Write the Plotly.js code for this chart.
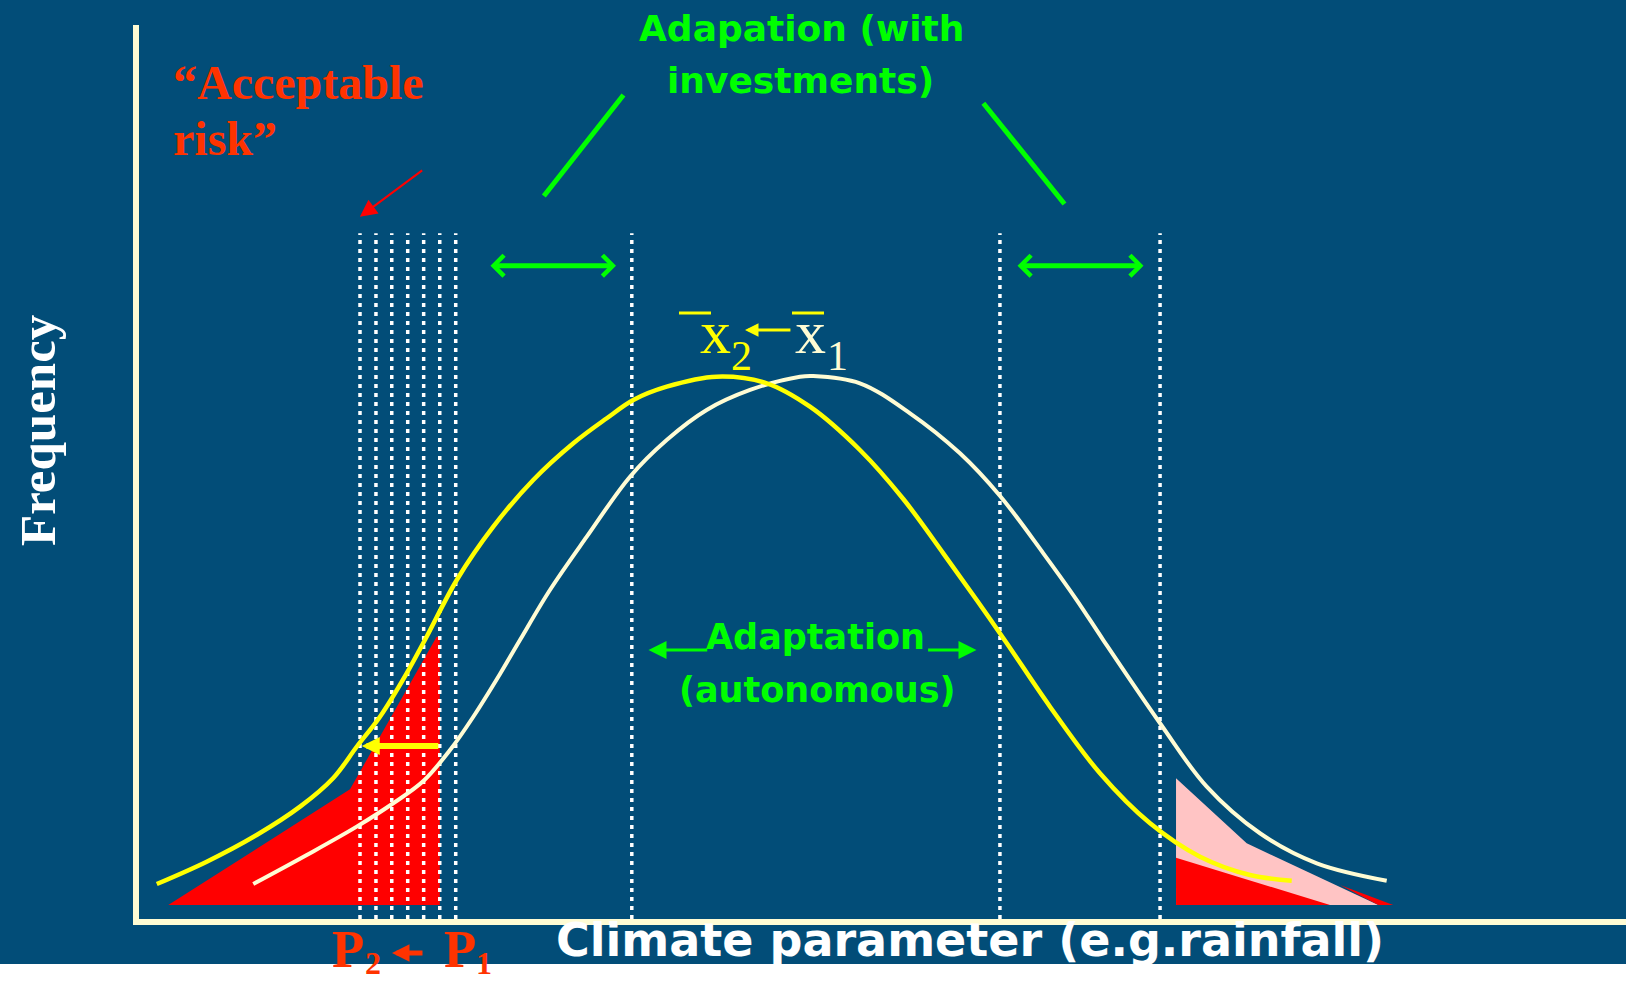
<!DOCTYPE html>
<html><head><meta charset="utf-8">
<script src="https://cdn.plot.ly/plotly-3.0.1.min.js"></script>
<style>html,body{margin:0;padding:0;background:#fff;overflow:hidden}#chart{width:1626px;height:982px}</style>
</head><body><div id="chart"></div>
<script>
// ---- Data (arbitrary units: climate parameter 0-100, frequency 0-100) ----
const currentX = [7.93, 11.52, 14.87, 17.32, 19.34, 21.13, 22.69, 24.48, 25.82, 27.83, 30.30, 33.20, 35.66, 38.34, 41.25, 44.60, 45.49, 48.62, 51.98, 55.33, 58.02, 60.92, 63.16, 64.94, 68.75, 71.88, 75.45, 79.26, 83.95];
const currentY = [3.92, 7.17, 10.34, 12.96, 15.45, 18.92, 22.65, 27.44, 31.24, 36.84, 42.81, 49.53, 53.64, 57.00, 59.24, 60.73, 60.81, 59.99, 56.63, 52.15, 47.37, 40.95, 35.72, 31.24, 21.92, 14.82, 9.60, 6.24, 4.29];
const shiftedX = [1.46, 4.81, 8.16, 11.07, 13.30, 14.87, 16.43, 18.22, 19.56, 21.58, 24.03, 26.71, 29.40, 31.64, 33.42, 35.66, 39.01, 42.37, 45.27, 48.62, 51.53, 54.21, 56.45, 58.46, 61.37, 64.72, 68.08, 71.43, 74.78, 77.58];
const shiftedY = [3.92, 6.42, 9.41, 12.58, 15.79, 19.29, 22.65, 27.51, 31.61, 37.96, 43.93, 49.16, 53.27, 56.07, 58.12, 59.61, 60.73, 59.99, 57.37, 52.52, 47.03, 40.95, 35.72, 30.91, 23.77, 16.32, 10.72, 6.98, 4.93, 4.29];
const riskThresholds = [15.09, 16.16, 17.22, 18.29, 19.36, 20.44, 21.51];
const adaptLimits = [33.32, 58.01, 68.75];
const thresholdTop = 76.8;
const lowTailX = [2.23, 14.42, 20.23, 20.44, 20.44];
const lowTailY = [1.57, 14.52, 31.61, 31.61, 1.57];
const highTailOldX = [69.82, 74.56, 83.39, 69.82];
const highTailOldY = [15.76, 8.48, 1.57, 1.57];
const highTailNewX = [69.82, 80.15, 69.82];
const highTailNewY = [6.86, 1.57, 1.57];
const highTailEdgeX = [80.82, 84.39, 83.39];
const highTailEdgeY = [3.81, 1.57, 1.57];
const meanShift = {from: 44.06, to: 40.91, level: 65.96};
const riskShift = {from: 20.44, to: 15.21, level: 19.37};
const investLeft = [23.74, 32.26], investRight = [59.09, 67.64], investLevel = 73.16;
const autoLeft = [38.48, 34.44], autoRight = [53.09, 56.44], autoLevel = 30.12;

// ---- Styles ----
const BG = '#024d78', CREAM = '#fffcd4', YEL = '#ffff00', GRN = '#00ff00', ORG = '#ff3300', RED = '#ff0000', PINK = '#ffc4c4';
const SERIF = 'Liberation Serif, Times New Roman, serif';
const SANS = 'DejaVu Sans, Verdana, sans-serif';
const plotL = 139, plotT = 25, plotW = 1487, plotH = 894;
const px = f => (f - plotL) / plotW;
const py = f => (plotT + plotH - f) / plotH;

function vlines(xs){ const X=[],Y=[]; xs.forEach(v=>{X.push(v,v,null);Y.push(0,thresholdTop,null);}); return {X,Y}; }
const vr = vlines(riskThresholds.concat(adaptLimits));

const traces = [
  {x: highTailOldX, y: highTailOldY, fill:'toself', fillcolor: PINK, mode:'none', type:'scatter'},
  {x: highTailNewX, y: highTailNewY, fill:'toself', fillcolor: RED, mode:'none', type:'scatter'},
  {x: highTailEdgeX, y: highTailEdgeY, fill:'toself', fillcolor: RED, mode:'none', type:'scatter'},
  {x: lowTailX, y: lowTailY, fill:'toself', fillcolor: RED, mode:'none', type:'scatter'},
  {x: vr.X, y: vr.Y, mode:'lines', type:'scatter', line:{color:'#ffffff', width:3.5, dash:'4px,5px'}},
  {x: currentX, y: currentY, mode:'lines', type:'scatter', line:{color: CREAM, width:4, shape:'spline', smoothing:1}},
  {x: shiftedX, y: shiftedY, mode:'lines', type:'scatter', line:{color: YEL, width:4.5, shape:'spline', smoothing:1}}
];

function txt(text, fx, fy, size, color, family, extra){
  return Object.assign({text, x:px(fx), y:py(fy), xref:'paper', yref:'paper', showarrow:false,
    xanchor:'center', yanchor:'middle', font:{family, size, color}}, extra||{});
}
function arr(x, ax, y, color, w, head, size, extra){
  return Object.assign({text:'', x, y, ax, ay:y, xref:'x', yref:'y', axref:'x', ayref:'y', showarrow:true,
    arrowcolor:color, arrowwidth:w, arrowhead:head, arrowsize:size, standoff:0, startstandoff:0}, extra||{});
}

const annotations = [
  txt('<b>Frequency</b>', 38, 430, 51, '#ffffff', SERIF, {textangle:-90}),
  txt('<b>Climate parameter (e.g.rainfall)</b>', 970, 940, 46, '#ffffff', SANS),
  txt('<b>\u201cAcceptable</b>', 171, 83, 48, ORG, SERIF, {xanchor:'left'}),
  txt('<b>risk\u201d</b>', 171, 138, 48, ORG, SERIF, {xanchor:'left'}),
  txt('<b>Adapation (with</b>', 801, 29, 36, GRN, SANS),
  txt('<b>investments)</b>', 800, 80, 36, GRN, SANS),
  txt('<b>Adaptation</b>', 815, 637, 35, GRN, SANS),
  txt('<b>(autonomous)</b>', 817, 690, 35, GRN, SANS),
  txt('x', 715, 332, 62, YEL, SERIF),
  txt('2', 741, 356, 42, YEL, SERIF),
  txt('x', 810, 332, 62, CREAM, SERIF),
  txt('1', 837, 356, 42, CREAM, SERIF),
  txt('<b>P</b>', 348, 949, 53, ORG, SERIF),
  txt('<b>2</b>', 373, 963, 32, ORG, SERIF),
  txt('<b>P</b>', 460, 949, 53, ORG, SERIF),
  txt('<b>1</b>', 484, 963, 32, ORG, SERIF),
  {text:'', x:px(392), y:py(953), xref:'paper', yref:'paper', ax:32, ay:0, showarrow:true,
   arrowcolor:ORG, arrowwidth:5, arrowhead:2, arrowsize:0.7, standoff:0},
  arr(meanShift.to, meanShift.from, meanShift.level, YEL, 3, 2, 0.9),
  arr(riskShift.to, riskShift.from, riskShift.level, YEL, 6, 2, 0.6),
  arr(investLeft[1], investLeft[0], investLevel, GRN, 5, 4, 0.8, {arrowside:'end+start', startarrowhead:4, startarrowsize:0.8}),
  arr(investRight[1], investRight[0], investLevel, GRN, 5, 4, 0.8, {arrowside:'end+start', startarrowhead:4, startarrowsize:0.8}),
  arr(autoLeft[1], autoLeft[0], autoLevel, GRN, 3, 2, 1.2),
  arr(autoRight[1], autoRight[0], autoLevel, GRN, 3, 2, 1.2),
  {text:'', x:15.08, y:78.64, ax:19.36, ay:83.95, xref:'x', yref:'y', axref:'x', ayref:'y', showarrow:true,
   arrowcolor:RED, arrowwidth:2, arrowhead:2, arrowsize:1.7, standoff:0}
];

const shapes = [
  {type:'rect', xref:'paper', yref:'paper', x0:px(0), x1:px(1626), y0:py(964), y1:py(0), fillcolor:BG, line:{width:0}, layer:'below'},
  {type:'line', xref:'x', yref:'y', x0:27.42, y0:80.96, x1:32.76, y1:92.27, line:{color:GRN, width:5}},
  {type:'line', xref:'x', yref:'y', x0:62.34, y0:80.07, x1:56.90, y1:91.35, line:{color:GRN, width:5}},
  {type:'line', xref:'paper', yref:'paper', x0:px(679), x1:px(711), y0:py(313), y1:py(313), line:{color:YEL, width:3}},
  {type:'line', xref:'paper', yref:'paper', x0:px(792), x1:px(824), y0:py(313), y1:py(313), line:{color:YEL, width:3}}
];

const ax = {showgrid:false, zeroline:false, showticklabels:false, ticks:'', showline:true, linecolor:CREAM, linewidth:6, fixedrange:true};
const layout = {
  width:1626, height:982, showlegend:false, hovermode:false,
  paper_bgcolor:'#ffffff', plot_bgcolor:'rgba(0,0,0,0)',
  margin:{l:plotL, r:1626-plotL-plotW, t:plotT, b:982-plotT-plotH, pad:0},
  xaxis:Object.assign({range:[0.268, 100]}, ax),
  yaxis:Object.assign({range:[0, 100.11]}, ax),
  annotations, shapes
};
Plotly.newPlot('chart', traces, layout, {displayModeBar:false, staticPlot:true});
</script></body></html>
